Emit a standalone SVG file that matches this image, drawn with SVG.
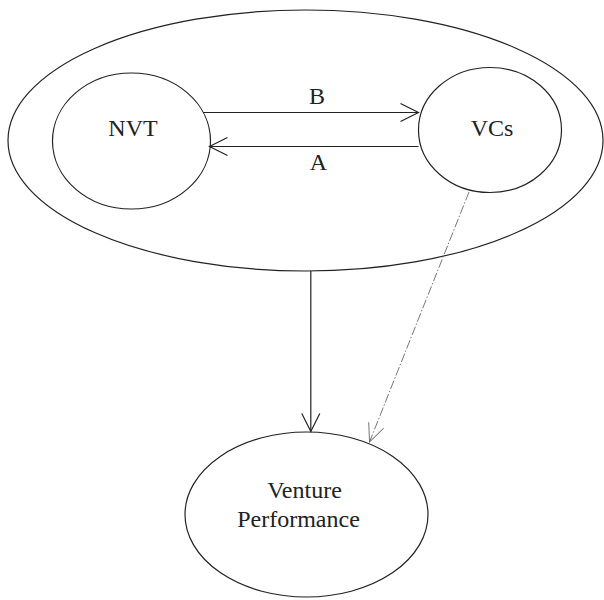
<svg xmlns="http://www.w3.org/2000/svg" width="604" height="600" viewBox="0 0 604 600">
  <style>
    .shape { fill: none; stroke: #222; stroke-width: 1.2; }
    .label { font-family: "Liberation Serif", "Times New Roman", serif; font-size: 24px; fill: #222; text-anchor: middle; }
    .edge { fill: none; stroke: #222; stroke-width: 1.2; }
    .dashed { fill: none; stroke: #666; stroke-width: 0.9; stroke-dasharray: 9 2 1.5 2; }
  </style>
  <defs>
    <marker id="open" markerUnits="userSpaceOnUse" markerWidth="24" markerHeight="24" viewBox="-20 -12 24 24" refX="0" refY="0" orient="auto">
      <polyline points="-18,-9 0,0 -18,9" fill="none" stroke="#222" stroke-width="1.2"/>
    </marker>
    <marker id="open-grey" markerUnits="userSpaceOnUse" markerWidth="24" markerHeight="24" viewBox="-20 -12 24 24" refX="0" refY="0" orient="auto">
      <polyline points="-18,-8 0,0 -18,8" fill="none" stroke="#666" stroke-width="0.9"/>
    </marker>
  </defs>
  <rect width="604" height="600" fill="#fff"/>

  <g id="system">
    <ellipse class="shape" cx="305.5" cy="140.5" rx="297.5" ry="130.5"/>
  </g>

  <g id="nvt">
    <ellipse class="shape" cx="131.5" cy="141" rx="79" ry="68"/>
    <text class="label" x="133" y="136">NVT</text>
  </g>

  <g id="vcs">
    <ellipse class="shape" cx="490" cy="130" rx="71.5" ry="62.5"/>
    <text class="label" x="492" y="136">VCs</text>
  </g>

  <g id="venture-performance">
    <ellipse class="shape" cx="306.5" cy="514.5" rx="121.5" ry="82.5"/>
    <text class="label" x="304.5" y="498">Venture</text>
    <text class="label" x="298.5" y="527">Performance</text>
  </g>

  <g id="connectors">
    <line class="edge" x1="203" y1="112.5" x2="418.5" y2="112.5" marker-end="url(#open)"/>
    <text class="label" x="317" y="104">B</text>
    <line class="edge" x1="418.5" y1="146.5" x2="209.5" y2="146.5" marker-end="url(#open)"/>
    <text class="label" x="318.5" y="170">A</text>
    <line class="edge" x1="310.8" y1="271" x2="310.8" y2="431.5" marker-end="url(#open)"/>
    <line class="dashed" x1="469" y1="192" x2="369.5" y2="442" marker-end="url(#open-grey)"/>
  </g>
</svg>
